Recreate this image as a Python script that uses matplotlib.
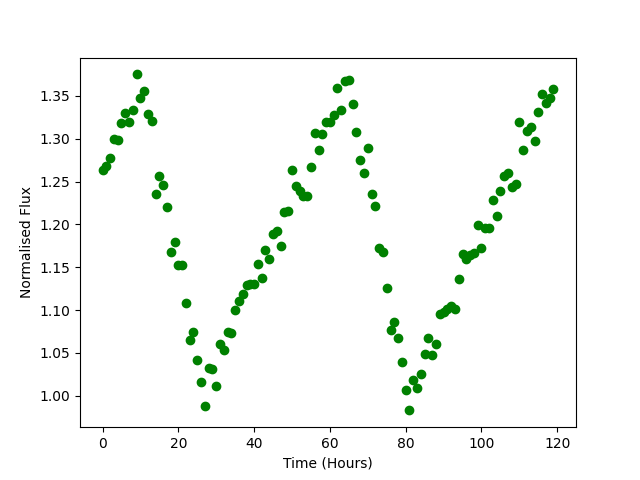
import matplotlib
matplotlib.use("Agg")
import matplotlib.pyplot as plt
import numpy as np

hours = list(range(120))
flux = [
    1.263, 1.268, 1.277, 1.300, 1.299, 1.318, 1.330, 1.319, 1.333, 1.375,
    1.348, 1.356, 1.329, 1.321, 1.235, 1.257, 1.246, 1.220, 1.168, 1.180,
    1.153, 1.153, 1.108, 1.065, 1.075, 1.042, 1.016, 0.988, 1.033, 1.031,
    1.012, 1.061, 1.053, 1.075, 1.073, 1.100, 1.111, 1.119, 1.129, 1.131,
    1.130, 1.154, 1.137, 1.170, 1.160, 1.189, 1.192, 1.175, 1.215, 1.216,
    1.263, 1.245, 1.239, 1.233, 1.233, 1.267, 1.307, 1.287, 1.305, 1.319,
    1.319, 1.328, 1.359, 1.333, 1.367, 1.368, 1.340, 1.308, 1.275, 1.260,
    1.289, 1.236, 1.221, 1.172, 1.168, 1.126, 1.077, 1.086, 1.068, 1.040,
    1.007, 0.983, 1.018, 1.009, 1.026, 1.049, 1.067, 1.048, 1.060, 1.096,
    1.098, 1.101, 1.105, 1.101, 1.136, 1.166, 1.160, 1.164, 1.167, 1.199,
    1.172, 1.196, 1.196, 1.228, 1.210, 1.239, 1.256, 1.260, 1.244, 1.247,
    1.319, 1.287, 1.309, 1.314, 1.297, 1.331, 1.352, 1.342, 1.348, 1.358,
]

fig, ax = plt.subplots(figsize=(6.4, 4.8), dpi=100)
ax.plot(hours, flux, 'o', color='green')
ax.set_xlabel('Time (Hours)')
ax.set_ylabel('Normalised Flux')
fig.savefig('out.png')
